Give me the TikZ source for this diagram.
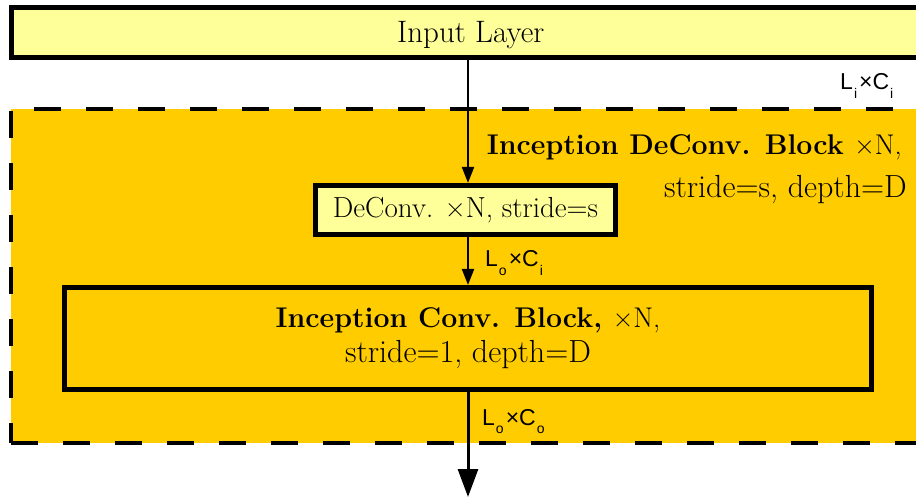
\documentclass[tikz,border=0pt]{standalone}
\usepackage{fontspec}
\newfontfamily\lsans{Liberation Sans}
\usetikzlibrary{arrows.meta}
\definecolor{paleyel}{HTML}{FFFF99}
\definecolor{blockyel}{HTML}{FFCC00}
\newcommand\lsub[1]{\kern1pt\raisebox{-0.38em}{\fontsize{14}{14}\selectfont #1}\kern2pt}
\begin{document}
\begin{tikzpicture}[x=1pt,y=-1pt,
  box/.style={draw=black, line width=5pt, inner sep=0pt},
  arr/.style={line width=2pt, -{Triangle[length=16pt,width=12pt]}},
  dim/.style={font=\lsans\fontsize{23}{23}\selectfont, inner sep=0pt, anchor=base west},
  ttl/.style={inner sep=0pt, anchor=base east}]
\useasboundingbox (0,0) rectangle (916,497);
\node[draw=black, line width=4pt, dash pattern=on 27pt off 25pt, fill=blockyel,
      minimum width=924pt, minimum height=334pt, inner sep=0pt] (block) at (473,276) {};
\node[box, fill=paleyel, minimum width=918.5pt, minimum height=50pt,
      text height=20pt, text depth=0pt,
      font=\fontsize{31}{31}\selectfont] (input) at (470.75,32.5) {Input Layer};
\node[box, fill=paleyel, minimum width=300pt, minimum height=49pt,
      font=\fontsize{29}{29}\selectfont] (deconv) at (465.5,210) {DeConv. ×N, stride=s};
\node[box, minimum width=807pt, minimum height=102pt, align=center,
      font=\fontsize{28.5}{35}\selectfont] (conv) at (468,338.5)
  {\bfseries Inception Conv. Block, \mdseries ×N,\\\fontsize{32}{35}\selectfont stride=1, depth=D};
\node[ttl, font=\fontsize{28.5}{28.5}\selectfont] (title1) at (902,155)
  {\bfseries Inception DeConv. Block \mdseries ×N,};
\node[ttl, font=\fontsize{32}{32}\selectfont] (title2) at (907,198) {stride=s, depth=D};
\node[dim] (lici) at (840,90) {L\lsub{i}×C\lsub{i}};
\node[dim] (loci) at (485,267) {L\lsub{o}×C\lsub{i}};
\node[dim] (loco) at (482,425) {L\lsub{o}×C\lsub{o}};
\coordinate (out) at (468,497);
\draw[arr] (input.south -| conv.north) -- (deconv.north -| conv.north);
\draw[arr] (deconv.south -| conv.north) -- (conv.north);
\draw[line width=3pt, -{Triangle[length=28pt,width=20pt]}] (conv.south) -- (out);
\end{tikzpicture}
\end{document}
